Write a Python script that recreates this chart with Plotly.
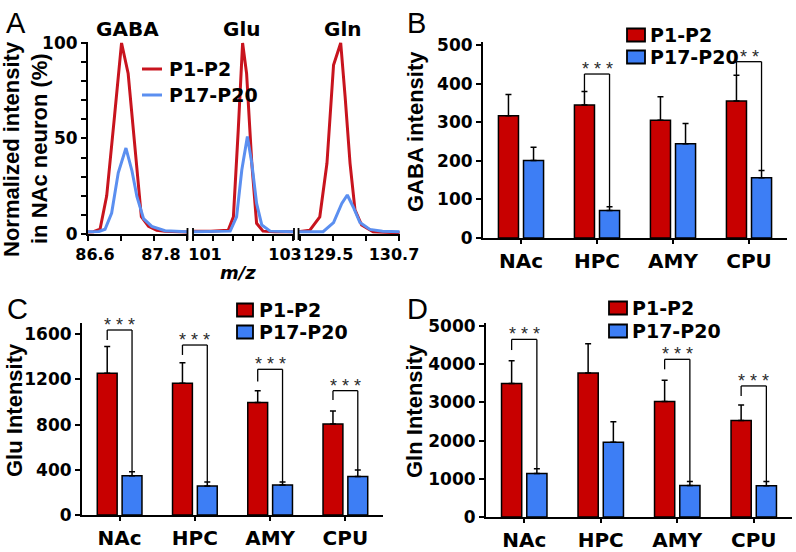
import plotly.graph_objects as go

FONT = "Liberation Sans, Arial, sans-serif"
WIDE = "DejaVu Sans, Liberation Sans, sans-serif"
RED = "#C80000"
BLUE = "#3D7EF5"
LRED = "#C8141E"
LBLUE = "#5B8FF0"

W, H = 796, 552

# ---------------- data ----------------
groups = ["P1-P2", "P17-P20"]
regions = ["NAc", "HPC", "AMY", "CPU"]

# Panel A: normalized spectra (m/z, %)
gaba_mz_p1 = [86.60, 86.70, 86.82, 86.94, 87.08, 87.21, 87.33, 87.45, 87.57, 87.70, 87.85, 88.00, 88.20, 88.40]
gaba_int_p1 = [1.0, 1.2, 2.6, 20, 61, 100, 84, 48, 9, 4, 2, 1.5, 1.2, 1.0]
gaba_mz_p17 = [86.60, 86.80, 86.91, 87.03, 87.15, 87.29, 87.40, 87.49, 87.61, 87.76, 88.00, 88.20, 88.40]
gaba_int_p17 = [1.2, 1.3, 2.5, 11, 32, 45, 33, 19.5, 8, 4, 1.7, 1.3, 1.2]

glu_mz_p1 = [100.50, 100.95, 101.38, 101.51, 101.63, 101.74, 101.84, 101.97, 102.09, 102.25, 102.55, 103.02]
glu_int_p1 = [1.5, 1.5, 2, 9, 54, 100, 84, 37, 5.6, 1.5, 1.2, 1.2]
glu_mz_p17 = [100.50, 100.95, 101.43, 101.59, 101.72, 101.86, 101.97, 102.09, 102.22, 102.43, 102.75, 103.02]
glu_int_p17 = [1.2, 1.2, 1.5, 9, 33.5, 51, 37, 16, 4.7, 1.5, 1.2, 1.2]

gln_mz_p1 = [128.87, 129.08, 129.26, 129.39, 129.51, 129.64, 129.72, 129.81, 129.90, 130.02, 130.23, 130.71]
gln_int_p1 = [1.2, 2, 9, 37, 88.5, 100, 72, 37, 12.6, 4.7, 1.2, 0.6]
gln_mz_p17 = [128.87, 129.32, 129.51, 129.66, 129.76, 129.87, 129.99, 130.17, 130.40, 130.71]
gln_int_p17 = [1.2, 1.2, 6, 16, 20.4, 14, 6, 2.4, 1.5, 1.2]

seg1_ticks = [86.6, 87.2, 87.8, 88.4]
seg1_text = ["86.6", "", "87.8", ""]
seg2_ticks = [100.5, 101.0, 101.5, 102.0, 102.5, 103.0]
seg2_text = ["", "101", "", "", "", "103"]
seg3_ticks = [128.9, 129.5, 130.1, 130.7]
seg3_text = ["", "129.5", "", "130.7"]
a_yticks = [0, 10, 20, 30, 40, 50, 60, 70, 80, 90, 100]
a_ytext = ["0", "", "", "", "", "50", "", "", "", "", "100"]

# Panel B: GABA intensity
gaba_p1 = [317, 345, 305, 355]
gaba_p1_err = [55, 35, 61, 67]
gaba_p17 = [201, 71, 244, 156]
gaba_p17_err = [34, 10, 53, 19]

# Panel C: Glu intensity
glu_p1 = [1255, 1166, 995, 806]
glu_p1_err = [236, 183, 106, 115]
glu_p17 = [348, 257, 266, 340]
glu_p17_err = [36, 35, 26, 58]

# Panel D: Gln intensity
gln_p1 = [3493, 3771, 3022, 2526]
gln_p1_err = [601, 767, 558, 409]
gln_p17 = [1141, 1960, 827, 816]
gln_p17_err = [122, 531, 105, 116]

# significance brackets: category index, bracket level, left-leg bottom, right-leg bottom, label
b_sig_idx = [1, 3]
b_sig_top = [425, 457]
b_sig_left = [380, 422]
b_sig_right = [81, 175]
b_sig_text = ["* * *", "* *"]

c_sig_idx = [0, 1, 2, 3]
c_sig_top = [1638, 1505, 1290, 1101]
c_sig_left = [1550, 1417, 1181, 1018]
c_sig_right = [384, 292, 292, 398]
c_sig_text = ["* * *", "* * *", "* * *", "* * *"]

d_sig_idx = [0, 2, 3]
d_sig_top = [4651, 4129, 3432]
d_sig_left = [4372, 3867, 3170]
d_sig_right = [1263, 932, 932]
d_sig_text = ["* * *", "* * *", "* * *"]

# ---------------- helpers ----------------
def px(x):
    return x / W

def py(y):
    return 1 - y / H

BAR_OFF = 0.165

fig = go.Figure()

# Panel A traces
for xa, mz1, i1, mz2, i2 in [
    ("x", gaba_mz_p1, gaba_int_p1, gaba_mz_p17, gaba_int_p17),
    ("x2", glu_mz_p1, glu_int_p1, glu_mz_p17, glu_int_p17),
    ("x3", gln_mz_p1, gln_int_p1, gln_mz_p17, gln_int_p17),
]:
    fig.add_trace(go.Scatter(x=mz1, y=i1, xaxis=xa, yaxis="y", mode="lines",
                             line=dict(color=LRED, width=3), name=groups[0],
                             showlegend=False))
    fig.add_trace(go.Scatter(x=mz2, y=i2, xaxis=xa, yaxis="y", mode="lines",
                             line=dict(color=LBLUE, width=3), name=groups[1],
                             showlegend=False))

def add_bars(v1, e1, v2, e2, xa, ya):
    for vals, errs, col, name in [(v1, e1, RED, groups[0]), (v2, e2, BLUE, groups[1])]:
        fig.add_trace(go.Bar(
            x=regions, y=vals, xaxis=xa, yaxis=ya, name=name, showlegend=False,
            marker=dict(color=col, line=dict(color="black", width=1.5)),
            error_y=dict(type="data", array=errs, arrayminus=[0] * len(errs),
                         symmetric=False, color="black", thickness=1.5, width=3),
        ))

add_bars(gaba_p1, gaba_p1_err, gaba_p17, gaba_p17_err, "x4", "y4")
add_bars(glu_p1, glu_p1_err, glu_p17, glu_p17_err, "x5", "y5")
add_bars(gln_p1, gln_p1_err, gln_p17, gln_p17_err, "x6", "y6")

shapes = []
annotations = []

def add_brackets(idx, top, left, right, text, xr, yr):
    for i, t, l, r, s in zip(idx, top, left, right, text):
        xl, xrt = i - BAR_OFF, i + BAR_OFF
        for (x0, y0, x1, y1) in [(xl, l, xl, t), (xl, t, xrt, t), (xrt, t, xrt, r)]:
            shapes.append(dict(type="line", xref=xr, yref=yr, x0=x0, y0=y0, x1=x1, y1=y1,
                               line=dict(color="black", width=1.3)))
        annotations.append(dict(x=i, y=t, xref=xr, yref=yr, text=s, showarrow=False,
                                yanchor="bottom", yshift=-7,
                                font=dict(family=FONT, size=18, color="#2a2a2a")))

add_brackets(b_sig_idx, b_sig_top, b_sig_left, b_sig_right, b_sig_text, "x4", "y4")
add_brackets(c_sig_idx, c_sig_top, c_sig_left, c_sig_right, c_sig_text, "x5", "y5")
add_brackets(d_sig_idx, d_sig_top, d_sig_left, d_sig_right, d_sig_text, "x6", "y6")

# axis-break marks in panel A
for bx in [187.5, 193, 294, 298.5]:
    shapes.append(dict(type="line", xref="paper", yref="paper",
                       x0=px(bx), x1=px(bx), y0=py(228), y1=py(240),
                       line=dict(color="black", width=1.8)))

def txt(x, y, s, size, bold=True, angle=0, italic=False, family=WIDE,
        xanchor="center", yanchor="middle"):
    annotations.append(dict(x=px(x), y=py(y), xref="paper", yref="paper", text=s,
                            showarrow=False, textangle=angle, xanchor=xanchor, yanchor=yanchor,
                            font=dict(family=family, size=size, color="black",
                                      weight="bold" if bold else "normal",
                                      style="italic" if italic else "normal")))

# panel letters
txt(16, 23, "A", 29, bold=False, family=FONT)
txt(416, 23, "B", 29, bold=False, family=FONT)
txt(17, 309, "C", 29, bold=False, family=FONT)
txt(417, 309, "D", 29, bold=False, family=FONT)
# peak names
txt(127, 29, "GABA", 20)
txt(242, 29, "Glu", 20)
txt(343, 29, "Gln", 20)
# axis titles
txt(11, 149, "Normalized intensity", 22, angle=-90, family=FONT)
txt(39, 149, "in NAc neuron (%)", 22, angle=-90, family=FONT)
txt(238, 272, "m/z", 18, italic=True)
txt(416, 132, "GABA intensity", 22, angle=-90, family=FONT)
txt(14, 410, "Glu Intensity", 22, angle=-90, family=FONT)
txt(414, 411, "Gln Intensity", 22, angle=-90, family=FONT)

# legends (swatches + labels)
LEGSIZE = 19
def leg_line(x0, x1, y, col, label):
    shapes.append(dict(type="line", xref="paper", yref="paper", x0=px(x0), x1=px(x1),
                       y0=py(y), y1=py(y), line=dict(color=col, width=3)))
    txt(x1 + 5, y, label, LEGSIZE, xanchor="left")

def leg_box(x0, x1, yc, hh, col, label, tx):
    shapes.append(dict(type="rect", xref="paper", yref="paper", x0=px(x0), x1=px(x1),
                       y0=py(yc - hh), y1=py(yc + hh), fillcolor=col,
                       line=dict(color="black", width=1.8)))
    txt(tx, yc, label, LEGSIZE, xanchor="left")

leg_line(142, 162, 69, LRED, groups[0])
leg_line(142, 162, 95, LBLUE, groups[1])
for (bx0, bx1, y1, y2, tx) in [(627, 645, 35, 57, 648), (237, 253, 310, 332, 257), (609, 627, 308, 331, 630)]:
    leg_box(bx0, bx1, y1, 6.5, RED, groups[0], tx)
    leg_box(bx0, bx1, y2, 6.5, BLUE, groups[1], tx)

tickfont = dict(family=WIDE, size=17, color="black", weight="bold")
atickfont = dict(family=WIDE, size=16, color="black", weight="bold")
catfont = dict(family=WIDE, size=20, color="black", weight="bold")

def yax(d0, d1, rng, anchor, dtick=None, tickvals=None, ticktext=None):
    a = dict(domain=[py(d0), py(d1)], range=rng, anchor=anchor, showline=True,
             linecolor="black", linewidth=2, ticks="outside", ticklen=5, tickwidth=1.5,
             tickcolor="black", showgrid=False, zeroline=False, tickfont=tickfont,
             fixedrange=True, automargin=False)
    if dtick is not None:
        a["dtick"] = dtick
        a["tick0"] = 0
    if tickvals is not None:
        a["tickmode"] = "array"
        a["tickvals"] = tickvals
        a["ticktext"] = ticktext
    return a

def xnum(x0, x1, rng, tv, tt, shift):
    return dict(domain=[px(x0), px(x1)], range=rng, anchor="y", showline=True,
                linecolor="black", linewidth=2, ticks="outside", ticklen=5, tickwidth=1.5,
                tickcolor="black", showgrid=False, zeroline=False, tickfont=atickfont,
                tickmode="array", tickvals=tv, ticktext=tt, fixedrange=True,
                automargin=False, ticklabelshift=shift)

def xcat(x0, x1, anchor):
    return dict(domain=[px(x0), px(x1)], range=[-0.5, 3.5], type="category",
                categoryorder="array", categoryarray=regions, anchor=anchor,
                showline=True, linecolor="black", linewidth=2, ticks="outside",
                ticklen=4, tickwidth=1.5, tickcolor="black", showgrid=False,
                zeroline=False, tickfont=catfont, fixedrange=True, automargin=False)

fig.update_layout(
    width=W, height=H, margin=dict(l=0, r=0, t=0, b=0, pad=0),
    paper_bgcolor="white", plot_bgcolor="white",
    font=dict(family=FONT, color="black"),
    bargap=0.34, bargroupgap=0.2, barmode="group", showlegend=False,
    xaxis=xnum(88, 187.5, [86.6, 86.6 + 99.5 / 55], seg1_ticks, seg1_text, 7),
    xaxis2=xnum(193, 294, [100.5, 101 + 81 / 40], seg2_ticks, seg2_text, -8),
    xaxis3=xnum(298.5, 400, [129.5 - 34.5 / 55, 129.5 + 67 / 55], seg3_ticks, seg3_text, -5),
    yaxis=yax(234, 42, [0, 100.5], "x", tickvals=a_yticks, ticktext=a_ytext),
    xaxis4=xcat(483, 787, "y4"),
    yaxis4=yax(238, 42, [0, 508], "x4", dtick=100),
    xaxis5=xcat(82, 383, "y5"),
    yaxis5=yax(515, 323, [0, 1700], "x5", dtick=400),
    xaxis6=xcat(486, 792, "y6"),
    yaxis6=yax(517, 323, [0, 5080], "x6", dtick=1000),
    shapes=shapes,
    annotations=annotations,
)

fig.write_html("out.html", config={"displayModeBar": False},
               post_script="document.body.style.margin='0';document.body.style.overflow='hidden';")
